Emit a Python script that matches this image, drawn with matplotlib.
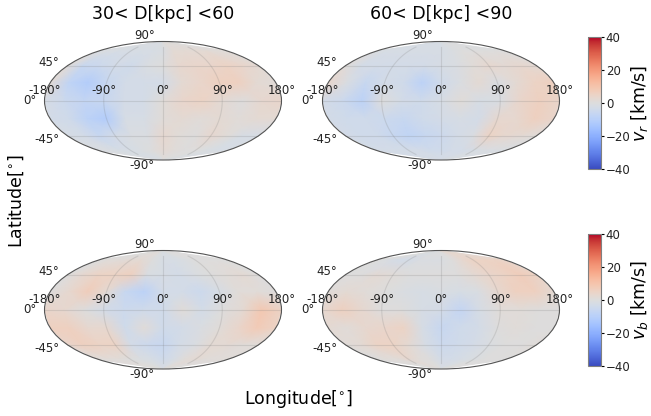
import numpy as np
import matplotlib
matplotlib.use("Agg")
import matplotlib.pyplot as plt

# grid nodes, degrees
lon_nodes = [-180, -150, -120, -90, -60, -30, 0, 30, 60, 90, 120, 150, 180]
lat_nodes = [90, 67.5, 45, 22.5, 0, -22.5, -45, -67.5, -90]

vr_30_60 = [
    [-1, -1, -1, -1, -1, -1, 0, 0, 0, 0, 0, 0, 0],
    [-1, -1, -2, -2, -2, -2, -1, 2, 2, 2, 2, 1, 1],
    [1, -6, -5, -3, -4, -1, 0, 3, 4, 4, 5, 4, 2],
    [2, -8, -11, -6, -3, -3, -3, 2, 4, 6, 6, 2, 1],
    [-2, -5, -7, -6, -3, -3, 1, 4, 5, 2, 0, 3, 4],
    [-3, -4, -9, -11, -2, -2, 1, 2, 1, 2, 1, 2, 2],
    [-2, -3, -6, -3, -1, -1, 3, 1, 0, 3, 1, -2, -2],
    [-1, -1, -2, -2, -1, 0, 2, 1, 0, 0, -1, -2, -2],
    [-1, -1, -1, -1, -1, -1, 0, 0, 0, 0, 0, 0, 0],
]
vr_60_90 = [
    [-2, -2, -2, -2, -2, -2, -2, -1, -1, -1, -1, -1, -1],
    [-1, -2, -2, -2, -2, -2, -2, -1, 0, 0, 0, 0, 0],
    [1, -3, -3, -3, -3, -3, -2, -1, 1, 3, 2, 3, 2],
    [4, -1, -6, -3, -4, -9, -4, -1, 2, -1, 2, 5, 6],
    [-3, -5, -9, 0, -3, -4, -2, 1, -2, -1, 4, 6, 4],
    [-3, -4, -4, -5, -6, -4, -3, -2, -3, 3, 3, 6, 4],
    [-3, -4, -4, -6, -8, -6, -5, -3, -1, 5, 3, 2, 1],
    [-3, -3, -3, -3, -3, -4, -4, -3, -3, -2, -1, -1, -1],
    [-2, -2, -2, -2, -2, -2, -2, -2, -2, -2, -2, -2, -2],
]
vb_30_60 = [
    [0, 0, 0, 0, 0, -1, -1, -1, 0, 0, 0, 0, 0],
    [0, 1, 1, 2, 2, 0, -2, -2, -1, 0, 0, 0, 0],
    [0, 3, 5, 5, 6, -1, -2, -3, -1, 0, 1, 2, 0],
    [0, 3, 7, 2, -6, -9, -3, -3, -5, -2, 1, 1, 0],
    [4, 3, 0, -3, -5, -4, -4, 1, -3, 0, 2, 9, 5],
    [6, 6, 3, 3, -4, 1, -4, -3, -1, 1, 4, 8, 5],
    [4, 6, 5, 5, -3, -5, -6, -3, -1, 2, 2, 1, 1],
    [1, 1, 1, 0, -1, -2, -4, -2, 1, 2, 1, 1, 1],
    [0, 0, 0, 0, 0, -1, -1, -1, 0, 0, 0, 0, 0],
]
vb_60_90 = [
    [0, 0, 0, 0, 0, 0, 0, 1, 1, 1, 1, 1, 1],
    [0, -1, -3, -3, -1, -1, -1, 0, 3, 5, 5, 5, 4],
    [0, 0, 2, 1, 0, 0, 0, 0, 2, 4, 5, 7, 5],
    [1, 2, 1, 0, -1, -2, -1, -2, -1, 3, 6, 6, 2],
    [3, 6, 3, 0, 0, -2, -3, -7, -2, 1, 1, 0, 0],
    [2, 1, 3, 4, 5, -2, -6, -4, -3, 0, 1, 0, 0],
    [1, 2, 5, 5, 2, -2, -5, -4, -3, -1, 0, 0, 1],
    [0, 1, 1, 3, 1, 0, -3, -3, -2, -1, 0, 0, 0],
    [0, 0, 0, 0, 0, 0, -1, -1, -1, 0, 0, 0, 0],
]

titles = ["30< D[kpc] <60", "60< D[kpc] <90"]
cbar_ticks = [-40, -20, 0, 20, 40]

W, H = 651, 416


def box(x0, y0, x1, y1):
    # pixel box, y from the top
    return [x0 / W, 1 - y1 / H, (x1 - x0) / W, (y1 - y0) / H]


fig = plt.figure(figsize=(W / 100, H / 100), dpi=100)

panels = [
    (vr_30_60, box(44.5, 41.5, 281.5, 160)),
    (vr_60_90, box(322.5, 41.5, 559.5, 160)),
    (vb_30_60, box(44.5, 250.5, 281.5, 369)),
    (vb_60_90, box(322.5, 250.5, 559.5, 369)),
]

lon = np.radians(lon_nodes)
lat = np.radians(lat_nodes)
for i, (vals, pos) in enumerate(panels):
    ax = fig.add_axes(pos, projection="mollweide")
    mesh = ax.pcolormesh(lon, lat, np.array(vals, dtype=float), cmap="coolwarm",
                         vmin=-40, vmax=40, shading="gouraud")
    ax.set_xticks(np.radians([-180, -90, 0, 90, 180]))
    ax.set_yticks(np.radians([-90, -45, 0, 45, 90]))
    ax.grid(True, color="gray", alpha=0.22, lw=0.8)
    ax.tick_params(labelsize=8.5, labelcolor="#222222")
    for s in ax.spines.values():
        s.set_linewidth(0.8)
        s.set_edgecolor("#555555")
    if i < 2:
        ax.set_title(titles[i], fontsize=12.5, pad=16)

cax1 = fig.add_axes(box(588, 37, 601, 169))
cb1 = fig.colorbar(mesh, cax=cax1, ticks=cbar_ticks)
cb1.set_label(r"$v_r$ [km/s]", fontsize=12.5, labelpad=-1)
cax2 = fig.add_axes(box(588, 234, 601, 366))
cb2 = fig.colorbar(mesh, cax=cax2, ticks=cbar_ticks)
cb2.set_label(r"$v_b$ [km/s]", fontsize=12.5, labelpad=-1)
for cb in (cb1, cb2):
    cb.ax.tick_params(labelsize=8.5, length=2, pad=1.5, labelcolor="#222222")
    cb.outline.set_edgecolor("gray")
    cb.outline.set_linewidth(0.8)

fig.text(16 / W, 1 - 201 / H, r"Latitude[$^{\circ}$]", rotation=90, fontsize=12.5, ha="center", va="center")
fig.text(299 / W, 1 - 399 / H, r"Longitude[$^{\circ}$]", fontsize=12.5, ha="center", va="center")

fig.savefig("out.png", dpi=100)
